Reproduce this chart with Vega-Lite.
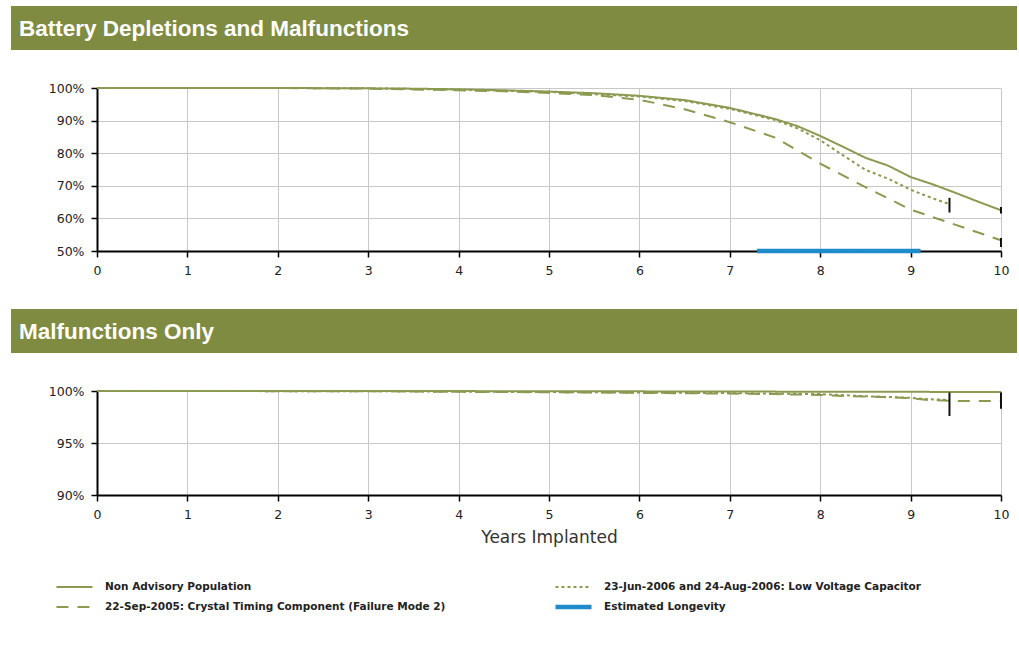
{
  "$schema": "https://vega.github.io/schema/vega-lite/v6.json",
  "background": "white",
  "padding": {"left": 11, "top": 6, "right": 0, "bottom": 0},
  "spacing": 32,
  "columns": 1,
  "config": {
    "view": {"stroke": null},
    "font": "DejaVu Sans",
    "axis": {
      "grid": true, "gridColor": "#c8c8c8", "gridWidth": 1,
      "domainColor": "#000000", "domainWidth": 2,
      "tickColor": "#000000", "tickWidth": 1.5, "tickSize": 6,
      "labelFont": "DejaVu Sans", "labelFontSize": 12.5, "labelColor": "#222222", "labelPadding": 7,
      "labelOverlap": false, "zindex": 0, "tickCount": 12
    },
    "axisX": {"labelPadding": 7, "format": "d", "labelFlush": false}
  },
  "datasets": {
    "spacer": [{"note": "left margin"}],
    "top": [
      {"series": "Non Advisory Population", "years": 0, "pct": 100},
      {"series": "Non Advisory Population", "years": 1, "pct": 100},
      {"series": "Non Advisory Population", "years": 2, "pct": 100},
      {"series": "Non Advisory Population", "years": 3, "pct": 99.9},
      {"series": "Non Advisory Population", "years": 3.5, "pct": 99.8},
      {"series": "Non Advisory Population", "years": 4, "pct": 99.6},
      {"series": "Non Advisory Population", "years": 4.5, "pct": 99.3},
      {"series": "Non Advisory Population", "years": 5, "pct": 98.9},
      {"series": "Non Advisory Population", "years": 5.5, "pct": 98.4},
      {"series": "Non Advisory Population", "years": 6, "pct": 97.6},
      {"series": "Non Advisory Population", "years": 6.5, "pct": 96.3},
      {"series": "Non Advisory Population", "years": 7, "pct": 93.9},
      {"series": "Non Advisory Population", "years": 7.5, "pct": 90.5},
      {"series": "Non Advisory Population", "years": 7.75, "pct": 88.3},
      {"series": "Non Advisory Population", "years": 8, "pct": 85.3},
      {"series": "Non Advisory Population", "years": 8.25, "pct": 82.0},
      {"series": "Non Advisory Population", "years": 8.5, "pct": 78.6},
      {"series": "Non Advisory Population", "years": 8.75, "pct": 76.2},
      {"series": "Non Advisory Population", "years": 9, "pct": 72.7},
      {"series": "Non Advisory Population", "years": 9.25, "pct": 70.4},
      {"series": "Non Advisory Population", "years": 9.5, "pct": 67.8},
      {"series": "Non Advisory Population", "years": 9.75, "pct": 65.1},
      {"series": "Non Advisory Population", "years": 10, "pct": 62.5},
      {"series": "23-Jun-2006 and 24-Aug-2006: Low Voltage Capacitor", "years": 0, "pct": 100},
      {"series": "23-Jun-2006 and 24-Aug-2006: Low Voltage Capacitor", "years": 1, "pct": 100},
      {"series": "23-Jun-2006 and 24-Aug-2006: Low Voltage Capacitor", "years": 2, "pct": 100},
      {"series": "23-Jun-2006 and 24-Aug-2006: Low Voltage Capacitor", "years": 3, "pct": 99.9},
      {"series": "23-Jun-2006 and 24-Aug-2006: Low Voltage Capacitor", "years": 4, "pct": 99.5},
      {"series": "23-Jun-2006 and 24-Aug-2006: Low Voltage Capacitor", "years": 5, "pct": 98.8},
      {"series": "23-Jun-2006 and 24-Aug-2006: Low Voltage Capacitor", "years": 6, "pct": 97.4},
      {"series": "23-Jun-2006 and 24-Aug-2006: Low Voltage Capacitor", "years": 6.5, "pct": 96.0},
      {"series": "23-Jun-2006 and 24-Aug-2006: Low Voltage Capacitor", "years": 7, "pct": 93.6},
      {"series": "23-Jun-2006 and 24-Aug-2006: Low Voltage Capacitor", "years": 7.5, "pct": 90.2},
      {"series": "23-Jun-2006 and 24-Aug-2006: Low Voltage Capacitor", "years": 7.75, "pct": 87.6},
      {"series": "23-Jun-2006 and 24-Aug-2006: Low Voltage Capacitor", "years": 8, "pct": 84.0},
      {"series": "23-Jun-2006 and 24-Aug-2006: Low Voltage Capacitor", "years": 8.25, "pct": 79.4},
      {"series": "23-Jun-2006 and 24-Aug-2006: Low Voltage Capacitor", "years": 8.5, "pct": 74.9},
      {"series": "23-Jun-2006 and 24-Aug-2006: Low Voltage Capacitor", "years": 8.75, "pct": 72.2},
      {"series": "23-Jun-2006 and 24-Aug-2006: Low Voltage Capacitor", "years": 9, "pct": 68.8},
      {"series": "23-Jun-2006 and 24-Aug-2006: Low Voltage Capacitor", "years": 9.25, "pct": 66.1},
      {"series": "23-Jun-2006 and 24-Aug-2006: Low Voltage Capacitor", "years": 9.43, "pct": 64.4},
      {"series": "22-Sep-2005: Crystal Timing Component (Failure Mode 2)", "years": 0, "pct": 100},
      {"series": "22-Sep-2005: Crystal Timing Component (Failure Mode 2)", "years": 1, "pct": 100},
      {"series": "22-Sep-2005: Crystal Timing Component (Failure Mode 2)", "years": 2, "pct": 100},
      {"series": "22-Sep-2005: Crystal Timing Component (Failure Mode 2)", "years": 3, "pct": 99.8},
      {"series": "22-Sep-2005: Crystal Timing Component (Failure Mode 2)", "years": 4, "pct": 99.3},
      {"series": "22-Sep-2005: Crystal Timing Component (Failure Mode 2)", "years": 4.5, "pct": 99.0},
      {"series": "22-Sep-2005: Crystal Timing Component (Failure Mode 2)", "years": 5, "pct": 98.5},
      {"series": "22-Sep-2005: Crystal Timing Component (Failure Mode 2)", "years": 5.5, "pct": 97.8},
      {"series": "22-Sep-2005: Crystal Timing Component (Failure Mode 2)", "years": 6, "pct": 96.4},
      {"series": "22-Sep-2005: Crystal Timing Component (Failure Mode 2)", "years": 6.5, "pct": 93.5},
      {"series": "22-Sep-2005: Crystal Timing Component (Failure Mode 2)", "years": 7, "pct": 89.5},
      {"series": "22-Sep-2005: Crystal Timing Component (Failure Mode 2)", "years": 7.5, "pct": 84.8},
      {"series": "22-Sep-2005: Crystal Timing Component (Failure Mode 2)", "years": 8, "pct": 76.8},
      {"series": "22-Sep-2005: Crystal Timing Component (Failure Mode 2)", "years": 8.5, "pct": 69.6},
      {"series": "22-Sep-2005: Crystal Timing Component (Failure Mode 2)", "years": 9, "pct": 62.7},
      {"series": "22-Sep-2005: Crystal Timing Component (Failure Mode 2)", "years": 9.5, "pct": 58.0},
      {"series": "22-Sep-2005: Crystal Timing Component (Failure Mode 2)", "years": 10, "pct": 53.3},
      {"series": "Estimated Longevity", "years": 7.3, "pct": 50},
      {"series": "Estimated Longevity", "years": 9.11, "pct": 50}
    ],
    "topTicks": [
      {"years": 9.43, "lo": 61.8, "hi": 66.3},
      {"years": 10, "lo": 61.5, "hi": 63.5},
      {"years": 10, "lo": 51.2, "hi": 54.0}
    ],
    "bottom": [
      {"series": "Non Advisory Population", "years": 0, "pct": 100},
      {"series": "Non Advisory Population", "years": 3, "pct": 100},
      {"series": "Non Advisory Population", "years": 5, "pct": 99.98},
      {"series": "Non Advisory Population", "years": 7, "pct": 99.95},
      {"series": "Non Advisory Population", "years": 8, "pct": 99.93},
      {"series": "Non Advisory Population", "years": 9, "pct": 99.92},
      {"series": "Non Advisory Population", "years": 10, "pct": 99.9},
      {"series": "23-Jun-2006 and 24-Aug-2006: Low Voltage Capacitor", "years": 0, "pct": 100},
      {"series": "23-Jun-2006 and 24-Aug-2006: Low Voltage Capacitor", "years": 3, "pct": 99.98},
      {"series": "23-Jun-2006 and 24-Aug-2006: Low Voltage Capacitor", "years": 4, "pct": 99.93},
      {"series": "23-Jun-2006 and 24-Aug-2006: Low Voltage Capacitor", "years": 5, "pct": 99.9},
      {"series": "23-Jun-2006 and 24-Aug-2006: Low Voltage Capacitor", "years": 6, "pct": 99.85},
      {"series": "23-Jun-2006 and 24-Aug-2006: Low Voltage Capacitor", "years": 7, "pct": 99.8},
      {"series": "23-Jun-2006 and 24-Aug-2006: Low Voltage Capacitor", "years": 8, "pct": 99.7},
      {"series": "23-Jun-2006 and 24-Aug-2006: Low Voltage Capacitor", "years": 8.5, "pct": 99.5},
      {"series": "23-Jun-2006 and 24-Aug-2006: Low Voltage Capacitor", "years": 9, "pct": 99.35},
      {"series": "23-Jun-2006 and 24-Aug-2006: Low Voltage Capacitor", "years": 9.2, "pct": 99.2},
      {"series": "23-Jun-2006 and 24-Aug-2006: Low Voltage Capacitor", "years": 9.43, "pct": 99.15},
      {"series": "22-Sep-2005: Crystal Timing Component (Failure Mode 2)", "years": 0, "pct": 100},
      {"series": "22-Sep-2005: Crystal Timing Component (Failure Mode 2)", "years": 3, "pct": 99.98},
      {"series": "22-Sep-2005: Crystal Timing Component (Failure Mode 2)", "years": 4, "pct": 99.92},
      {"series": "22-Sep-2005: Crystal Timing Component (Failure Mode 2)", "years": 5, "pct": 99.88},
      {"series": "22-Sep-2005: Crystal Timing Component (Failure Mode 2)", "years": 6, "pct": 99.82},
      {"series": "22-Sep-2005: Crystal Timing Component (Failure Mode 2)", "years": 7, "pct": 99.75},
      {"series": "22-Sep-2005: Crystal Timing Component (Failure Mode 2)", "years": 7.5, "pct": 99.7},
      {"series": "22-Sep-2005: Crystal Timing Component (Failure Mode 2)", "years": 8, "pct": 99.62},
      {"series": "22-Sep-2005: Crystal Timing Component (Failure Mode 2)", "years": 8.3, "pct": 99.5},
      {"series": "22-Sep-2005: Crystal Timing Component (Failure Mode 2)", "years": 8.7, "pct": 99.42},
      {"series": "22-Sep-2005: Crystal Timing Component (Failure Mode 2)", "years": 9, "pct": 99.3},
      {"series": "22-Sep-2005: Crystal Timing Component (Failure Mode 2)", "years": 9.2, "pct": 99.12},
      {"series": "22-Sep-2005: Crystal Timing Component (Failure Mode 2)", "years": 9.5, "pct": 99.05},
      {"series": "22-Sep-2005: Crystal Timing Component (Failure Mode 2)", "years": 10, "pct": 99.05}
    ],
    "bottomTicks": [
      {"years": 9.43, "lo": 97.6, "hi": 99.85},
      {"years": 10, "lo": 98.3, "hi": 99.85}
    ]
  },
  "resolve": {"scale": {"color": "independent", "strokeDash": "independent", "strokeWidth": "independent"}},
  "concat": [
    {
      "width": 1006, "height": 44,
      "data": {"values": [{"section": "Battery Depletions and Malfunctions"}]},
      "view": {"fill": "#7f8b41", "stroke": null},
      "mark": {"type": "rect", "color": "#7f8b41"},
      "encoding": {},
      "title": {"text": "Battery Depletions and Malfunctions", "anchor": "start", "frame": "group", "orient": "top", "offset": -29, "baseline": "alphabetic", "dy": 23, "color": "#ffffff", "font": "Liberation Sans", "fontSize": 22.5, "fontWeight": "bold", "dx": 8}
    },
    {
      "spacing": 0,
      "resolve": {"scale": {"color": "independent", "strokeDash": "independent", "strokeWidth": "independent"}},
      "hconcat": [
        {
          "width": 37, "height": 1,
          "data": {"name": "spacer"},
          "mark": {"type": "rect", "opacity": 0},
          "encoding": {}
        },
        {
          "width": 904, "height": 163,
          "layer": [
            {
              "data": {"name": "top"},
              "mark": {"type": "line", "strokeCap": "butt", "clip": false},
              "encoding": {
                "x": {"field": "years", "type": "quantitative", "scale": {"domain": [0, 10], "nice": false}, "axis": {"title": null, "values": [0,1,2,3,4,5,6,7,8,9,10], "zindex": 0}},
                "y": {"field": "pct", "type": "quantitative", "scale": {"domain": [50, 100], "nice": false, "zero": false}, "axis": {"values": [50,60,70,80,90,100], "tickCount": 12, "labelOverlap": false, "labelExpr": "datum.value + '%'", "title": null}},
                "color": {"field": "series", "type": "nominal", "scale": {"domain": ["Non Advisory Population", "22-Sep-2005: Crystal Timing Component (Failure Mode 2)", "23-Jun-2006 and 24-Aug-2006: Low Voltage Capacitor", "Estimated Longevity"], "range": ["#8a9a50", "#8a9a50", "#8a9a50", "#1f8bc9"]}, "legend": null},
                "strokeDash": {"field": "series", "type": "nominal", "scale": {"domain": ["Non Advisory Population", "22-Sep-2005: Crystal Timing Component (Failure Mode 2)", "23-Jun-2006 and 24-Aug-2006: Low Voltage Capacitor", "Estimated Longevity"], "range": [[1, 0], [12, 9], [3, 3], [1, 0]]}, "legend": null},
                "strokeWidth": {"field": "series", "type": "nominal", "scale": {"type": "ordinal", "domain": ["Non Advisory Population", "22-Sep-2005: Crystal Timing Component (Failure Mode 2)", "23-Jun-2006 and 24-Aug-2006: Low Voltage Capacitor", "Estimated Longevity"], "range": [2, 2, 2, 4.5]}, "legend": null}
              }
            },
            {
              "data": {"name": "topTicks"},
              "mark": {"type": "rule", "color": "#111111", "strokeWidth": 2},
              "encoding": {
                "x": {"field": "years", "type": "quantitative"},
                "y": {"field": "lo", "type": "quantitative"},
                "y2": {"field": "hi"}
              }
            }
          ]
        }
      ]
    },
    {
      "width": 1006, "height": 44,
      "data": {"values": [{"section": "Malfunctions Only"}]},
      "view": {"fill": "#7f8b41", "stroke": null},
      "mark": {"type": "rect", "color": "#7f8b41"},
      "encoding": {},
      "title": {"text": "Malfunctions Only", "anchor": "start", "frame": "group", "orient": "top", "offset": -29, "baseline": "alphabetic", "dy": 23, "color": "#ffffff", "font": "Liberation Sans", "fontSize": 22.5, "fontWeight": "bold", "dx": 8}
    },
    {
      "spacing": 0,
      "resolve": {"scale": {"color": "independent", "strokeDash": "independent", "strokeWidth": "independent"}},
      "hconcat": [
        {
          "width": 37, "height": 1,
          "data": {"name": "spacer"},
          "mark": {"type": "rect", "opacity": 0},
          "encoding": {}
        },
        {
          "width": 904, "height": 104,
          "layer": [
            {
              "data": {"name": "bottom"},
              "mark": {"type": "line", "strokeCap": "butt", "clip": false},
              "encoding": {
                "x": {"field": "years", "type": "quantitative", "scale": {"domain": [0, 10], "nice": false}, "axis": {"title": "Years Implanted", "values": [0,1,2,3,4,5,6,7,8,9,10], "zindex": 0, "titleFont": "DejaVu Sans", "titleFontSize": 17, "titleFontWeight": "normal", "titleColor": "#333333", "titlePadding": 9}},
                "y": {"field": "pct", "type": "quantitative", "scale": {"domain": [90, 100], "nice": false, "zero": false}, "axis": {"values": [90, 95, 100], "labelOverlap": false, "labelExpr": "datum.value + '%'", "title": null}},
                "color": {"field": "series", "type": "nominal", "scale": {"domain": ["Non Advisory Population", "22-Sep-2005: Crystal Timing Component (Failure Mode 2)", "23-Jun-2006 and 24-Aug-2006: Low Voltage Capacitor", "Estimated Longevity"], "range": ["#8a9a50", "#8a9a50", "#8a9a50", "#1f8bc9"]},
                  "legend": {"orient": "none", "legendX": -43, "legendY": 186, "columns": 2, "columnPadding": 107, "rowPadding": 0, "clipHeight": 20, "symbolType": "stroke", "symbolSize": 1300, "labelFont": "DejaVu Sans", "labelFontSize": 10.5, "labelFontWeight": "bold", "labelColor": "#222222", "labelLimit": 0, "labelOffset": 10, "title": null}},
                "strokeDash": {"field": "series", "type": "nominal", "scale": {"domain": ["Non Advisory Population", "22-Sep-2005: Crystal Timing Component (Failure Mode 2)", "23-Jun-2006 and 24-Aug-2006: Low Voltage Capacitor", "Estimated Longevity"], "range": [[1, 0], [12, 9], [3, 3], [1, 0]]},
                  "legend": {"orient": "none", "legendX": -43, "legendY": 186, "columns": 2, "columnPadding": 107, "rowPadding": 0, "clipHeight": 20, "symbolType": "stroke", "symbolSize": 1300, "labelFont": "DejaVu Sans", "labelFontSize": 10.5, "labelFontWeight": "bold", "labelColor": "#222222", "labelLimit": 0, "labelOffset": 10, "title": null}},
                "strokeWidth": {"field": "series", "type": "nominal", "scale": {"type": "ordinal", "domain": ["Non Advisory Population", "22-Sep-2005: Crystal Timing Component (Failure Mode 2)", "23-Jun-2006 and 24-Aug-2006: Low Voltage Capacitor", "Estimated Longevity"], "range": [2, 2, 2, 4.5]},
                  "legend": {"orient": "none", "legendX": -43, "legendY": 186, "columns": 2, "columnPadding": 107, "rowPadding": 0, "clipHeight": 20, "symbolType": "stroke", "symbolSize": 1300, "labelFont": "DejaVu Sans", "labelFontSize": 10.5, "labelFontWeight": "bold", "labelColor": "#222222", "labelLimit": 0, "labelOffset": 10, "title": null}}
              }
            },
            {
              "data": {"name": "bottomTicks"},
              "mark": {"type": "rule", "color": "#111111", "strokeWidth": 2},
              "encoding": {
                "x": {"field": "years", "type": "quantitative"},
                "y": {"field": "lo", "type": "quantitative"},
                "y2": {"field": "hi"}
              }
            }
          ]
        }
      ]
    }
  ]
}
